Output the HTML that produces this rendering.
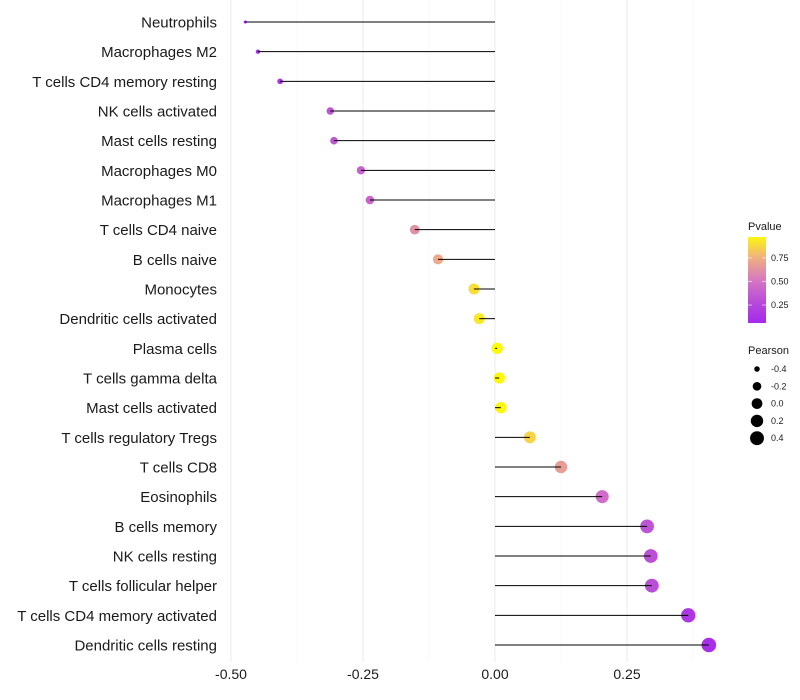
<!DOCTYPE html>
<html><head><meta charset="utf-8"><style>
html,body{margin:0;padding:0;background:#fff;}
svg{display:block;font-family:"Liberation Sans",sans-serif;}
</style></head><body>
<svg id="chart" width="800" height="700"></svg>
<script>
const categories=["Neutrophils","Macrophages M2","T cells CD4 memory resting","NK cells activated","Mast cells resting","Macrophages M0","Macrophages M1","T cells CD4 naive","B cells naive","Monocytes","Dendritic cells activated","Plasma cells","T cells gamma delta","Mast cells activated","T cells regulatory  Tregs ","T cells CD8","Eosinophils","B cells memory","NK cells resting","T cells follicular helper","T cells CD4 memory activated","Dendritic cells resting"];
const pearson=[-0.473,-0.449,-0.407,-0.312,-0.305,-0.254,-0.237,-0.152,-0.108,-0.040,-0.030,0.004,0.008,0.011,0.066,0.125,0.203,0.288,0.295,0.297,0.366,0.405];
const pvalue=[0.06,0.09,0.13,0.32,0.34,0.40,0.42,0.62,0.72,0.90,0.93,0.99,0.98,0.97,0.86,0.67,0.46,0.32,0.31,0.30,0.16,0.10];
const xTicks=[-0.5,-0.25,0,0.25];
const xTickLabels=["-0.50","-0.25","0.00","0.25"];
const xMinor=[-0.375,-0.125,0.125,0.375];
const pTicks=[0.25,0.5,0.75];
const sizeTicks=[-0.4,-0.2,0.0,0.2,0.4];

const NS="http://www.w3.org/2000/svg";
const svg=document.getElementById('chart');
function el(t,a,p){const e=document.createElementNS(NS,t);for(const k in a)e.setAttribute(k,a[k]);(p||svg).appendChild(e);return e;}
const x=v=>495+v*528;
const y=i=>22+i*(623/21);
const r=v=>1+Math.sqrt(45*Math.max(0,v+0.48));
const stops=[[0,[160,32,240]],[0.25,[180,70,220]],[0.5,[212,116,196]],[0.75,[240,176,128]],[1,[255,255,0]]];
function col(p){p=Math.max(0,Math.min(1,p));for(let k=1;k<stops.length;k++){if(p<=stops[k][0]){const a=stops[k-1],b=stops[k];const t=(p-a[0])/(b[0]-a[0]);const c=a[1].map((u,j)=>Math.round(u+(b[1][j]-u)*t));return `rgb(${c})`;}}return 'rgb(255,255,0)';}

const grid=el('g',{});


xTicks.concat(xMinor).forEach(v=>{const l=el('line',{x1:x(v),x2:x(v),y1:0,y2:662,stroke:xTicks.includes(v)?'#ebebeb':'#f3f3f3','stroke-width':xTicks.includes(v)?1:0.6},grid);

});

categories.forEach((c,i)=>{
 const t=el('text',{x:217,y:y(i)+5.5,'text-anchor':'end','font-size':15,fill:'#1a1a1a'});t.textContent=c;
 
 
 const pt=el('circle',{cx:x(pearson[i]),cy:y(i),r:r(pearson[i]),fill:col(pvalue[i])});
 
 
 const s=el('line',{x1:x(0),x2:x(pearson[i]),y1:y(i),y2:y(i),stroke:'#000','stroke-width':1});
 
 
});
xTicks.forEach((v,i)=>{const t=el('text',{x:x(v),y:679,'text-anchor':'middle','font-size':14,fill:'#1a1a1a'});t.textContent=xTickLabels[i];

});

// color legend
const lg=el('g',{});


const tt=el('text',{x:748,y:230,'font-size':11,fill:'#1a1a1a'},lg);tt.textContent='Pvalue';
const defs=el('defs',{});const gr=el('linearGradient',{id:'pg',x1:0,y1:1,x2:0,y2:0},defs);
const pMin=0.06,pMax=0.97;
for(let k=0;k<=20;k++){const p=pMin+(pMax-pMin)*k/20;el('stop',{offset:k/20,'stop-color':col(p)},gr);}
const barTop=237,barBot=323;
el('rect',{x:748,y:barTop,width:18,height:barBot-barTop,fill:'url(#pg)'},lg);
const py=p=>barBot-(p-pMin)/(pMax-pMin)*(barBot-barTop);
pTicks.forEach(p=>{el('line',{x1:748,x2:752,y1:py(p),y2:py(p),stroke:'#fff','stroke-opacity':0.6},lg);el('line',{x1:762,x2:766,y1:py(p),y2:py(p),stroke:'#fff','stroke-opacity':0.6},lg);
 const t=el('text',{x:771,y:py(p)+3,'font-size':9,fill:'#1a1a1a'},lg);t.textContent=p.toFixed(2);});
// size legend
const sg=el('g',{});


const st=el('text',{x:748,y:354,'font-size':11,fill:'#1a1a1a'},sg);st.textContent='Pearson';
sizeTicks.forEach((v,k)=>{const cy=369+k*17.3;el('circle',{cx:757,cy:cy,r:r(v)*0.95,fill:'#000'},sg);
 const t=el('text',{x:771,y:cy+3,'font-size':9,fill:'#1a1a1a'},sg);t.textContent=v.toFixed(1);});
</script>
</body></html>
